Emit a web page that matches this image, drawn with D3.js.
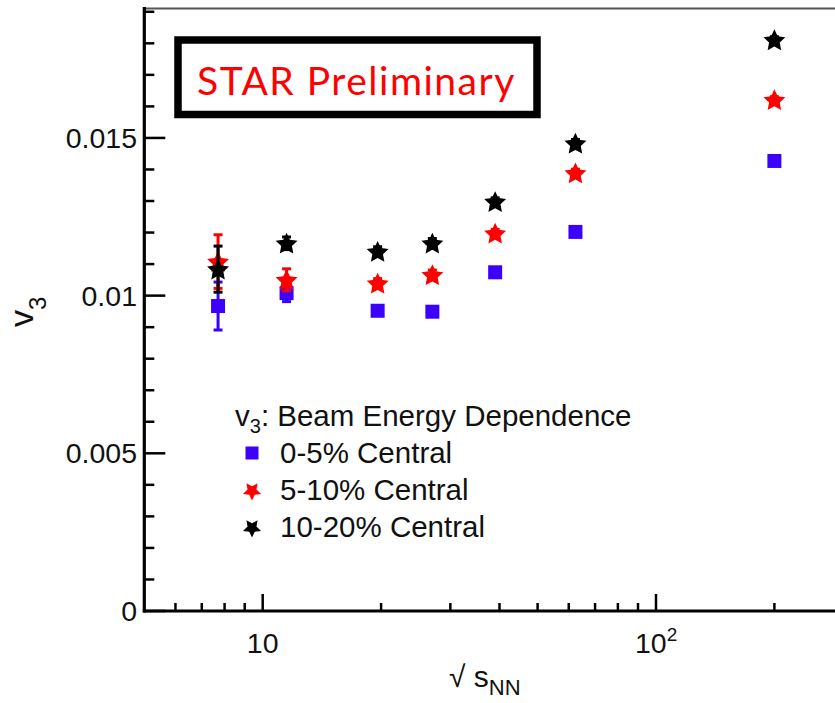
<!DOCTYPE html>
<html>
<head>
<meta charset="utf-8">
<script src="https://cdn.jsdelivr.net/npm/d3@7"></script>
<style>
  html, body { margin: 0; padding: 0; background: #fff; overflow: hidden; }
  svg { display: block; }
  text { font-family: "Liberation Sans", Arial, sans-serif; }
</style>
</head>
<body>
<svg id="chart" width="835" height="703"></svg>
<script>
// Collision energies (GeV) for the beam energy scan
const energies = [7.7, 11.5, 19.6, 27, 39, 62.4, 200];

// v3 per centrality class
const v3Central0to5   = [0.00967, 0.01008, 0.00952, 0.00949, 0.01074, 0.01202, 0.01427];
const v3Central5to10  = [0.01108, 0.01050, 0.01039, 0.01066, 0.01198, 0.01389, 0.01621];
const v3Central10to20 = [0.01084, 0.01166, 0.01140, 0.01166, 0.01298, 0.01483, 0.01811];

// statistical errors
const err0to5   = [0.00076, 0.00027, 0.00012, 0.00012, 0.00010, 0.00010, 0.00008];
const err5to10  = [0.00085, 0.00035, 0.00015, 0.00015, 0.00012, 0.00012, 0.00010];
const err10to20 = [0.00073, 0.00020, 0.00015, 0.00015, 0.00012, 0.00012, 0.00010];

const seriesNames = ["0-5% Central", "5-10% Central", "10-20% Central"];
const seriesColors = ["#3c00ff", "#ff0000", "#000000"];

const yTicksMajor = [0, 0.005, 0.01, 0.015];
const yTickLabels = ["0", "0.005", "0.01", "0.015"];
const xTicksMajor = [10, 100];

const svg = d3.select("#chart");

const x = d3.scaleLog().domain([5, 300]).range([144.3, 144.3 + 393.3 * Math.log10(60)]);
const y = d3.scaleLinear().domain([0, 0.01912]).range([611, 8]);

const plotLeft = 144.3, plotBottom = 611, plotTop = 8;

// chunky five-pointed star marker
function starD(rOuter, rInner) {
  const pts = d3.range(10).map(k => {
    const a = -Math.PI / 2 + k * Math.PI / 5;
    const r = k % 2 === 0 ? rOuter : rInner;
    return [r * Math.cos(a), r * Math.sin(a)];
  });
  return "M" + pts.map(p => p[0].toFixed(2) + "," + p[1].toFixed(2)).join("L") + "Z";
}

// frame top edge
svg.append("line")
  .attr("x1", plotLeft).attr("x2", 835).attr("y1", plotTop + 0.5).attr("y2", plotTop + 0.5)
  .attr("stroke", "#555").attr("stroke-width", 2);

// y axis ticks (drawn inward)
const yMinor = d3.range(0, 0.0195, 0.001);
svg.append("g").selectAll("line").data(yMinor).join("line")
  .attr("x1", plotLeft).attr("y1", d => y(d)).attr("y2", d => y(d))
  .attr("x2", d => yTicksMajor.some(t => Math.abs(t - d) < 1e-9) ? plotLeft + 21 : plotLeft + 10)
  .attr("stroke", "#000").attr("stroke-width", 2.5);

svg.append("g").selectAll("text").data(yTicksMajor).join("text")
  .attr("x", 137).attr("y", d => y(d) + 10)
  .attr("text-anchor", "end")
  .attr("font-size", 28.5).attr("fill", "#111")
  .text((d, i) => yTickLabels[i]);

// x axis ticks (log decades, drawn upward)
const xMinor = [6, 7, 8, 9, 20, 30, 40, 50, 60, 70, 80, 90, 200];
svg.append("g").selectAll("line").data(xMinor).join("line")
  .attr("x1", d => x(d)).attr("x2", d => x(d)).attr("y1", plotBottom).attr("y2", plotBottom - 8)
  .attr("stroke", "#000").attr("stroke-width", 2.5);
svg.append("g").selectAll("line").data(xTicksMajor).join("line")
  .attr("x1", d => x(d)).attr("x2", d => x(d)).attr("y1", plotBottom).attr("y2", plotBottom - 17)
  .attr("stroke", "#000").attr("stroke-width", 2.5);

// x tick labels
svg.append("text").attr("x", x(10)).attr("y", 653).attr("text-anchor", "middle")
  .attr("font-size", 28.5).attr("fill", "#111").text("10");
const t100 = svg.append("text").attr("x", x(100) - 21).attr("y", 653)
  .attr("font-size", 28.5).attr("fill", "#111");
t100.append("tspan").text("10");
t100.append("tspan").attr("font-size", 19).attr("dy", -12).text("2");

// axis lines
svg.append("line").attr("x1", plotLeft).attr("x2", plotLeft).attr("y1", plotTop - 1).attr("y2", plotBottom + 1.5)
  .attr("stroke", "#000").attr("stroke-width", 3.2);
svg.append("line").attr("x1", plotLeft - 1.5).attr("x2", 835).attr("y1", plotBottom).attr("y2", plotBottom)
  .attr("stroke", "#000").attr("stroke-width", 3.2);

// axis titles
const yTitle = svg.append("text").attr("transform", "translate(33,327) rotate(-90)")
  .attr("font-size", 34).attr("fill", "#111");
yTitle.append("tspan").text("v");
yTitle.append("tspan").attr("font-size", 24).attr("dy", 13).text("3");

const xTitle = svg.append("text").attr("x", 449).attr("y", 687)
  .attr("font-size", 30).attr("fill", "#111");
xTitle.append("tspan").text("\u221A ");
xTitle.append("tspan").text("s");
xTitle.append("tspan").attr("font-size", 22).attr("dy", 8).text("NN");

// data series
const series = [
  { vals: v3Central0to5,   errs: err0to5,   color: seriesColors[0], shape: "square" },
  { vals: v3Central5to10,  errs: err5to10,  color: seriesColors[1], shape: "star" },
  { vals: v3Central10to20, errs: err10to20, color: seriesColors[2], shape: "star" }
];

const starPath = starD(11.5, 5.6);
const starSmall = starD(9.5, 4.7);

series.forEach(s => {
  const g = svg.append("g");
  const pts = energies.map((e, i) => ({ e, v: s.vals[i], err: s.errs[i] }));
  // error bars with end caps
  g.selectAll("line.err").data(pts).join("line")
    .attr("class", "err")
    .attr("x1", d => x(d.e)).attr("x2", d => x(d.e))
    .attr("y1", d => y(d.v - d.err)).attr("y2", d => y(d.v + d.err))
    .attr("stroke", s.color).attr("stroke-width", 3);
  g.selectAll("line.capT").data(pts).join("line")
    .attr("class", "capT")
    .attr("x1", d => x(d.e) - 4.5).attr("x2", d => x(d.e) + 4.5)
    .attr("y1", d => y(d.v + d.err)).attr("y2", d => y(d.v + d.err))
    .attr("stroke", s.color).attr("stroke-width", 3);
  g.selectAll("line.capB").data(pts).join("line")
    .attr("class", "capB")
    .attr("x1", d => x(d.e) - 4.5).attr("x2", d => x(d.e) + 4.5)
    .attr("y1", d => y(d.v - d.err)).attr("y2", d => y(d.v - d.err))
    .attr("stroke", s.color).attr("stroke-width", 3);
  if (s.shape === "square") {
    g.selectAll("rect").data(pts).join("rect")
      .attr("x", d => x(d.e) - 7).attr("y", d => y(d.v) - 7)
      .attr("width", 14).attr("height", 14).attr("fill", s.color);
  } else {
    g.selectAll("path").data(pts).join("path")
      .attr("d", starPath)
      .attr("transform", d => `translate(${x(d.e)},${y(d.v) + 1})`)
      .attr("fill", s.color);
  }
});

// legend
const lg = svg.append("g");
const lt = lg.append("text").attr("x", 235).attr("y", 426).attr("font-size", 29.5).attr("fill", "#111");
lt.append("tspan").text("v");
lt.append("tspan").attr("font-size", 20).attr("dy", 7).text("3");
lt.append("tspan").attr("dy", -7).text(": Beam Energy Dependence");

const rowBase = [463, 500, 537];
seriesNames.forEach((name, i) => {
  const cy = rowBase[i] - 10;
  if (i === 0) {
    lg.append("rect").attr("x", 252 - 6.5).attr("y", cy - 6.5).attr("width", 13).attr("height", 13)
      .attr("fill", seriesColors[i]);
  } else {
    lg.append("path").attr("d", starSmall)
      .attr("transform", `translate(252,${cy + 1}) rotate(180)`).attr("fill", seriesColors[i]);
  }
  lg.append("text").attr("x", 280).attr("y", rowBase[i]).attr("font-size", 29.5).attr("fill", "#111")
    .text(name);
});

// preliminary label box
svg.append("rect").attr("x", 178).attr("y", 40).attr("width", 359).attr("height", 74.5)
  .attr("fill", "#fff").attr("stroke", "#000").attr("stroke-width", 7.5);
svg.append("text").attr("x", 197).attr("y", 95)
  .style("font-family", "Lato, 'Open Sans', sans-serif")
  .attr("font-size", 39).attr("letter-spacing", 1.5).attr("fill", "#ff0000")
  .text("STAR Preliminary");
</script>
</body>
</html>
